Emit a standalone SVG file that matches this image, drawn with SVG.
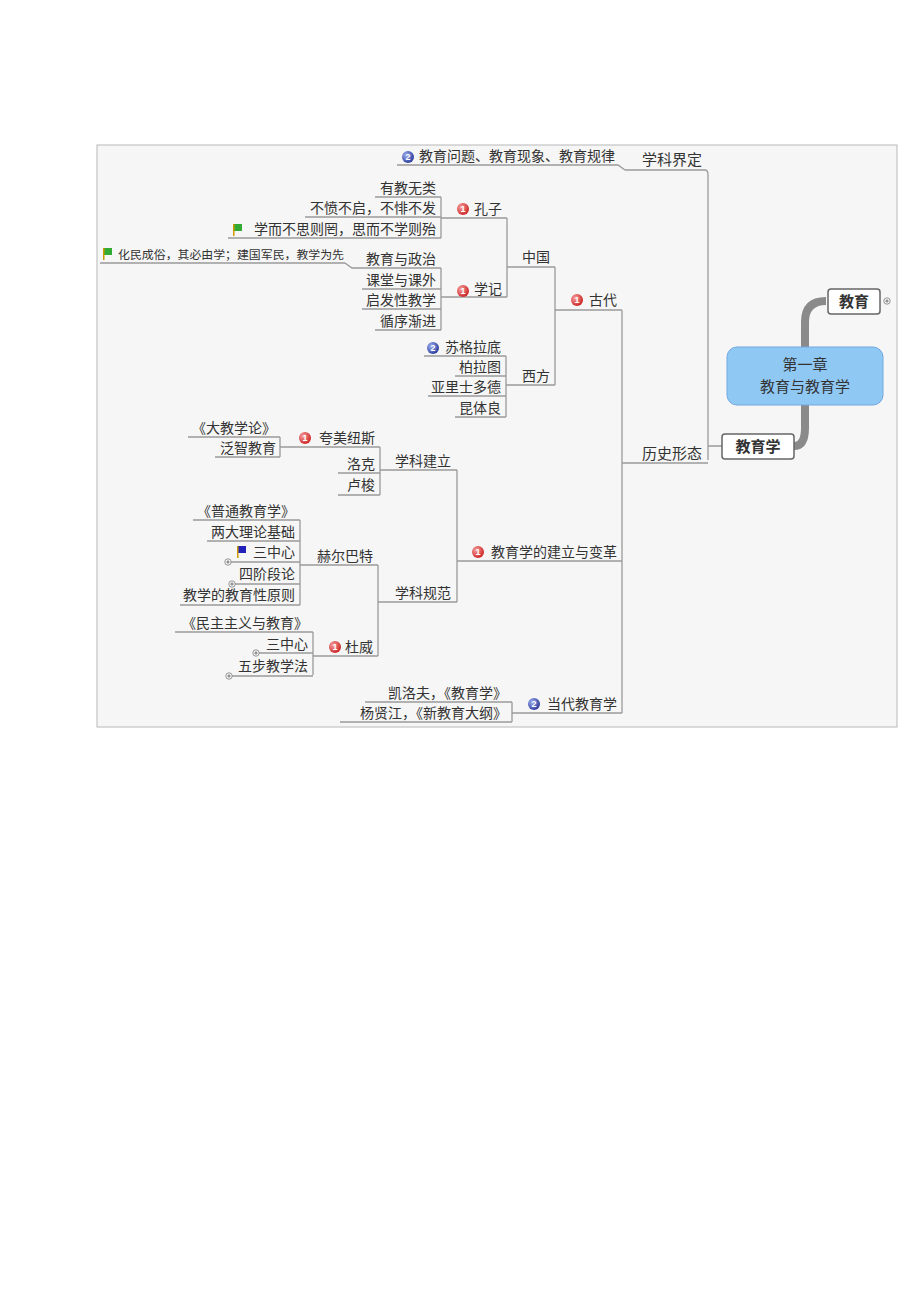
<svg xmlns="http://www.w3.org/2000/svg" width="920" height="1302" viewBox="0 0 920 1302">
<defs>
<style>
.u{stroke:#9a9a9a;stroke-width:1.3;fill:none}
.t{font-family:"Noto Sans CJK SC",sans-serif;fill:#333;font-size:14px;text-anchor:end}
.t1{font-family:"Noto Sans CJK SC",sans-serif;fill:#333;font-size:15px;text-anchor:end}
.b{font-family:"Liberation Sans",sans-serif;font-size:9px;font-weight:bold;fill:#fff;text-anchor:middle}
.pl{fill:#fff;stroke:#777;stroke-width:0.8}
.pp{stroke:#555;stroke-width:0.8}
</style>
<radialGradient id="rg" cx="0.35" cy="0.35" r="0.7"><stop offset="0" stop-color="#f7a0a0"/><stop offset="1" stop-color="#c22"/></radialGradient>
<radialGradient id="bg" cx="0.35" cy="0.35" r="0.7"><stop offset="0" stop-color="#a0b0f0"/><stop offset="1" stop-color="#2a3a9a"/></radialGradient>
<symbol id="b1" viewBox="-7 -7 14 14" overflow="visible"><circle r="6" fill="url(#rg)"/><text class="b" y="3.2">1</text></symbol>
<symbol id="b2" viewBox="-7 -7 14 14" overflow="visible"><circle r="6" fill="url(#bg)"/><text class="b" y="3.2">2</text></symbol>
<g id="gf"><rect x="0" y="-10" width="9" height="7" fill="#3a3"/><rect x="0" y="-10" width="1.5" height="12" fill="#c90"/></g>
<g id="bf"><rect x="0" y="-10" width="9" height="7" fill="#22b"/><rect x="0" y="-10" width="1.5" height="12" fill="#c90"/></g>
<g id="plus"><circle r="3.2" class="pl"/><path class="pp" d="M-1.8 0 H1.8 M0 -1.8 V1.8"/></g>
</defs>
<rect x="0" y="0" width="920" height="1302" fill="#fff"/>
<rect x="97" y="145" width="800" height="582" fill="#f6f6f6" stroke="#b8b8b8"/>

<g id="connectors">
<path d="M805 347 V322 Q805 301 826 301 M805 405 V428 Q805 446 794 446" stroke="#8a8a8a" stroke-width="8" fill="none"/>
<path class="u" d="M708 175 V460 M708 446 H722"/>
<path class="u" d="M622 310 V713"/>
<path class="u" d="M555 267 V385"/>
<path class="u" d="M507 218 V297"/>
<path class="u" d="M441 197 V238 M441 268 V330"/>
<path class="u" d="M506 356 V417"/>
<path class="u" d="M457 470 V602"/>
<path class="u" d="M380 447 V495"/>
<path class="u" d="M280 437 V457"/>
<path class="u" d="M378 565 V656"/>
<path class="u" d="M300 520 V605"/>
<path class="u" d="M313 632 V675"/>
<path class="u" d="M512 702 V722"/>
</g>

<g id="root"><rect x="727" y="347" width="156" height="58" rx="10" fill="#90c8f4" stroke="#70a8e0"/>
<text x="805" y="370" class="t1" style="text-anchor:middle">第一章</text>
<text x="805" y="392" class="t1" style="text-anchor:middle">教育与教育学</text></g>
<g id="n-jiaoyu"><rect x="828" y="289" width="52" height="25" rx="3" fill="#fff" stroke="#666" stroke-width="1.5"/>
<text x="854" y="307" class="t1" style="text-anchor:middle;font-weight:bold">教育</text><use href="#plus" x="887" y="301"/></g>
<g id="n-jiaoyuxue"><rect x="722" y="434" width="72" height="25" rx="3" fill="#fff" stroke="#666" stroke-width="1.5"/>
<text x="758" y="452" class="t1" style="text-anchor:middle;font-weight:bold">教育学</text></g>

<g id="n-xkjd"><path class="u" d="M625 170 H705 Q708 170 708 175"/><text x="702" y="165" class="t1">学科界定</text></g>
<g id="n-wenti"><path class="u" d="M397 165 H618 L625 170"/><use href="#b2" x="401" y="150" width="14" height="14"/><text x="615" y="161" class="t" style="font-size:14px">教育问题、教育现象、教育规律</text></g>
<g id="n-lsxt"><path class="u" d="M622 463 H708"/><text x="702" y="459" class="t1">历史形态</text></g>

<g id="n-gudai"><path class="u" d="M555 310 H622"/><use href="#b1" x="570" y="293" width="14" height="14"/><text x="617" y="305" class="t">古代</text></g>
<g id="n-zhongguo"><path class="u" d="M507 267 H555"/><text x="550" y="262" class="t">中国</text></g>
<g id="n-xifang"><path class="u" d="M506 385 H555"/><text x="550" y="381" class="t">西方</text></g>
<g id="n-kongzi"><path class="u" d="M441 218 H507"/><use href="#b1" x="456" y="202" width="14" height="14"/><text x="502" y="214" class="t">孔子</text></g>
<g id="n-xueji"><path class="u" d="M441 297 H507"/><use href="#b1" x="456" y="284" width="14" height="14"/><text x="502" y="294" class="t">学记</text></g>
<g id="n-k1"><path class="u" d="M375 197 H441"/><text x="436" y="193" class="t">有教无类</text></g>
<g id="n-k2"><path class="u" d="M305 217 H441"/><text x="436" y="213" class="t">不愤不启，不悱不发</text></g>
<g id="n-k3"><path class="u" d="M228 238 H441"/><use href="#gf" x="233" y="234"/><text x="436" y="234" class="t">学而不思则罔，思而不学则殆</text></g>
<g id="n-x1"><path class="u" d="M345 263 L352 268 H441"/><text x="436" y="264" class="t">教育与政治</text></g>
<g id="n-x1a"><path class="u" d="M100 263 H345"/><use href="#gf" x="103" y="258"/><text x="344" y="259" class="t" style="font-size:11.9px">化民成俗，其必由学；建国军民，教学为先</text></g>
<g id="n-x2"><path class="u" d="M362 289 H441"/><text x="436" y="285" class="t">课堂与课外</text></g>
<g id="n-x3"><path class="u" d="M362 309 H441"/><text x="436" y="305" class="t">启发性教学</text></g>
<g id="n-x4"><path class="u" d="M375 330 H441"/><text x="436" y="326" class="t">循序渐进</text></g>
<g id="n-w1"><path class="u" d="M424 356 H506"/><use href="#b2" x="426" y="341" width="14" height="14"/><text x="501" y="352" class="t">苏格拉底</text></g>
<g id="n-w2"><path class="u" d="M455 376 H506"/><text x="501" y="372" class="t">柏拉图</text></g>
<g id="n-w3"><path class="u" d="M428 396 H506"/><text x="501" y="392" class="t">亚里士多德</text></g>
<g id="n-w4"><path class="u" d="M455 417 H506"/><text x="501" y="413" class="t">昆体良</text></g>

<g id="n-jlbg"><path class="u" d="M457 561 H622"/><use href="#b1" x="471" y="545" width="14" height="14"/><text x="617" y="557" class="t">教育学的建立与变革</text></g>
<g id="n-xkjl"><path class="u" d="M380 470 H457"/><text x="451" y="466" class="t">学科建立</text></g>
<g id="n-xkgf"><path class="u" d="M378 602 H457"/><text x="451" y="598" class="t">学科规范</text></g>
<g id="n-kmns"><path class="u" d="M280 447 H380"/><use href="#b1" x="298" y="431" width="14" height="14"/><text x="375" y="443" class="t">夸美纽斯</text></g>
<g id="n-dajiao"><path class="u" d="M188 437 H280"/><text x="276" y="433" class="t">《大教学论》</text></g>
<g id="n-fanzhi"><path class="u" d="M215 457 H280"/><text x="276" y="453" class="t">泛智教育</text></g>
<g id="n-luoke"><path class="u" d="M338 473 H380"/><text x="375" y="469" class="t">洛克</text></g>
<g id="n-lusuo"><path class="u" d="M338 495 H380"/><text x="375" y="490" class="t">卢梭</text></g>
<g id="n-heerbate"><path class="u" d="M300 565 H378"/><text x="373" y="561" class="t">赫尔巴特</text></g>
<g id="n-h1"><path class="u" d="M193 520 H300"/><text x="295" y="516" class="t">《普通教育学》</text></g>
<g id="n-h2"><path class="u" d="M207 541 H300"/><text x="295" y="537" class="t">两大理论基础</text></g>
<g id="n-h3"><path class="u" d="M231 562 H300"/><use href="#plus" x="228" y="562"/><use href="#bf" x="237" y="556"/><text x="295" y="557" class="t">三中心</text></g>
<g id="n-h4"><path class="u" d="M235 584 H300"/><use href="#plus" x="232" y="584"/><text x="295" y="579" class="t">四阶段论</text></g>
<g id="n-h5"><path class="u" d="M180 605 H300"/><text x="295" y="600" class="t">教学的教育性原则</text></g>
<g id="n-duwei"><path class="u" d="M313 656 H378"/><use href="#b1" x="328" y="640" width="14" height="14"/><text x="373" y="652" class="t">杜威</text></g>
<g id="n-d1"><path class="u" d="M175 632 H313"/><text x="308" y="628" class="t">《民主主义与教育》</text></g>
<g id="n-d2"><path class="u" d="M259 653 H313"/><use href="#plus" x="256" y="653"/><text x="308" y="649" class="t">三中心</text></g>
<g id="n-d3"><path class="u" d="M232 676 H313"/><use href="#plus" x="229" y="676"/><text x="308" y="671" class="t">五步教学法</text></g>

<g id="n-dangdai"><path class="u" d="M512 713 H622"/><use href="#b2" x="527" y="697" width="14" height="14"/><text x="617" y="709" class="t">当代教育学</text></g>
<g id="n-kailuofu"><path class="u" d="M365 702 H512"/><text x="507" y="698" class="t">凯洛夫，《教育学》</text></g>
<g id="n-yang"><path class="u" d="M340 722 H512"/><text x="507" y="718" class="t">杨贤江，《新教育大纲》</text></g>
</svg>
